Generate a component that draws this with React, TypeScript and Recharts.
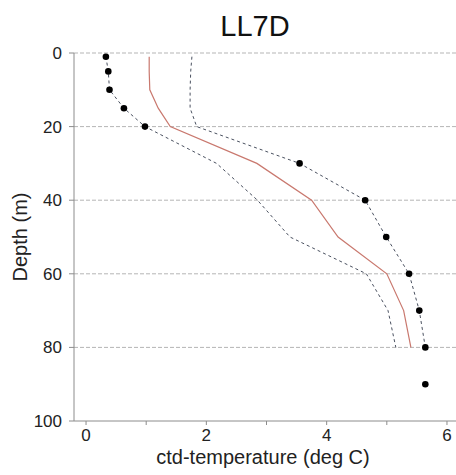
import { ComposedChart, Line, Scatter, XAxis, YAxis, CartesianGrid, Label } from 'recharts'

// depth levels (m) of the profile statistics
const depths = [1, 5, 10, 15, 20, 30, 40, 50, 60, 70, 80]
const meanTemp = [1.05, 1.05, 1.06, 1.2, 1.4, 2.84, 3.75, 4.19, 5.0, 5.28, 5.4]
const upperTemp = [1.76, 1.74, 1.73, 1.73, 1.84, 3.55, 4.64, 4.99, 5.37, 5.54, 5.64]
const lowerTemp = [0.33, 0.37, 0.39, 0.63, 0.98, 2.17, 2.85, 3.39, 4.66, 5.02, 5.15]

// observed ctd casts
const obsDepths = [1, 5, 10, 15, 20, 30, 40, 50, 60, 70, 80, 90]
const obsTemp = [0.33, 0.37, 0.39, 0.63, 0.98, 3.55, 4.64, 4.99, 5.37, 5.54, 5.64, 5.64]

const xTicks = [0, 1, 2, 3, 4, 5, 6]
const yTicks = [0, 20, 40, 60, 80, 100]

const FONT = '"Liberation Sans", Arial, sans-serif'

const toRows = (temps: number[], ds: number[]) => temps.map((t, i) => ({ t, d: ds[i] }))

export default function App() {
  const mean = toRows(meanTemp, depths)
  const upper = toRows(upperTemp, depths)
  const lower = toRows(lowerTemp, depths)
  const obs = toRows(obsTemp, obsDepths)

  return (
    <div style={{ position: 'absolute', left: 0, top: 0, width: 456, height: 475, background: '#fff', fontFamily: FONT }}>
      <div
        style={{
          position: 'absolute',
          left: 74,
          width: 362,
          top: 9,
          textAlign: 'center',
          fontSize: 29,
          lineHeight: '34px',
          color: '#111',
        }}
      >
        LL7D
      </div>
      <ComposedChart width={456} height={475} margin={{ top: 53, right: 0, bottom: 0, left: 0 }}>
        <CartesianGrid
          horizontal={true}
          vertical={false}
          stroke="#b5b5b5"
          strokeDasharray="4 2"
          horizontalValues={[0, 20, 40, 60, 80]}
        />
        <XAxis
          type="number"
          dataKey="t"
          domain={[-0.2, 6.15]}
          allowDataOverflow
          ticks={xTicks}
          interval={0}
          height={54}
          stroke="#8c8c8c"
          tickSize={4}
          tickMargin={4}
          tickFormatter={(v: number) => (v % 2 === 0 ? String(v) : '')}
          tick={{ fill: '#222', fontSize: 17, fontFamily: FONT }}
        >
          <Label
            content={() => (
              <text
                x={263}
                y={457}
                textAnchor="middle"
                dominantBaseline="central"
                style={{ fill: '#222', fontSize: 20, fontFamily: FONT }}
              >
                ctd-temperature (deg C)
              </text>
            )}
          />
        </XAxis>
        <YAxis
          type="number"
          dataKey="d"
          domain={[0, 100]}
          reversed
          ticks={yTicks}
          interval={0}
          width={74}
          stroke="#8c8c8c"
          tickSize={5}
          tickMargin={7}
          tick={{ fill: '#222', fontSize: 17, fontFamily: FONT }}
        >
          <Label
            content={() => (
              <text
                x={20}
                y={237}
                transform="rotate(-90 20 237)"
                textAnchor="middle"
                dominantBaseline="central"
                style={{ fill: '#222', fontSize: 20, fontFamily: FONT }}
              >
                Depth (m)
              </text>
            )}
          />
        </YAxis>
        <Line
          data={lower}
          dataKey="d"
          stroke="#4a5160"
          strokeWidth={1}
          strokeDasharray="3 3"
          dot={false}
          isAnimationActive={false}
        />
        <Line
          data={upper}
          dataKey="d"
          stroke="#4a5160"
          strokeWidth={1}
          strokeDasharray="3 3"
          dot={false}
          isAnimationActive={false}
        />
        <Line
          data={mean}
          dataKey="d"
          stroke="#c9786e"
          strokeWidth={1.2}
          dot={false}
          isAnimationActive={false}
        />
        <Scatter
          data={obs}
          dataKey="d"
          fill="#000"
          shape={(p: any) => <circle cx={p.cx} cy={p.cy} r={3.3} fill="#000" />}
          isAnimationActive={false}
        />
      </ComposedChart>
    </div>
  )
}
